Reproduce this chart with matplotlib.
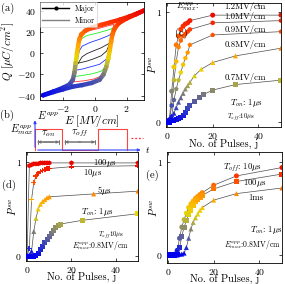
import numpy as np
import matplotlib
matplotlib.use("Agg")
import matplotlib.pyplot as plt
from matplotlib.collections import LineCollection
from matplotlib.colors import LinearSegmentedColormap
from matplotlib.lines import Line2D

plt.rcParams['font.family'] = 'cmr10'
plt.rcParams['mathtext.fontset'] = 'cm'
plt.rcParams['axes.formatter.use_mathtext'] = True
plt.rcParams['axes.unicode_minus'] = True

# ---- (a) hysteresis data, E [MV/cm], Q [uC/cm^2] ----
major_up_E = [-3.25, -2.6, -2.0, -1.6, -1.38, -1.28, -1.2, -1.12, -1.05, -0.97, -0.85, -0.6, -0.2, 0.4, 1.0, 1.6, 2.2, 2.7, 3.1]
major_up_Q = [-39.5, -36, -32.5, -29.5, -25, -18, -9, 0, 7, 13, 17.5, 21, 24, 26.5, 29, 31.5, 34.5, 37.5, 40]
major_lo_E = [-3.25, -2.6, -2.0, -1.4, -0.8, -0.2, 0.3, 0.55, 0.72, 0.85, 0.95, 1.03, 1.12, 1.25, 1.5, 2.0, 2.6, 3.1]
major_lo_Q = [-39.5, -36.5, -34, -31.5, -30, -28, -25, -20, -13, -5, 3, 11, 18, 23, 28, 32.5, 36.5, 40]

minor_colors = ['#222222', '#2233ff', '#22ee22', '#ff3333']
minor_up_E = [[-1.04, -0.8, -0.5, -0.1, 0.4, 0.94],
              [-1.18, -1.08, -0.98, -0.8, -0.3, 0.3, 0.8, 1.0],
              [-1.28, -1.18, -1.05, -0.9, -0.5, 0.2, 0.8, 1.08],
              [-1.33, -1.25, -1.12, -1.0, -0.85, -0.5, 0.2, 0.8, 1.2]]
minor_up_Q = [[-9.4, -3.5, -0.5, 2, 5, 9.4],
              [-16, -6, 2, 6.5, 10, 13, 16, 17.5],
              [-22, -8, 5, 13, 16.5, 19, 21.5, 23],
              [-27, -14, 0, 10, 17.5, 20.5, 23, 25.5, 27]]
minor_lo_E = [[-1.04, -0.5, -0.1, 0.4, 0.75, 0.94],
              [-1.18, -0.8, -0.3, 0.3, 0.7, 0.88, 0.97, 1.0],
              [-1.28, -0.8, -0.2, 0.4, 0.75, 0.92, 1.02, 1.08],
              [-1.33, -0.7, -0.1, 0.5, 0.75, 0.9, 1.0, 1.1, 1.2]]
minor_lo_Q = [[-9.4, -7.5, -5.5, -2.5, 2, 9.4],
              [-16, -15, -13, -10.5, -6, 0, 9, 17.5],
              [-22, -21, -19.5, -17, -12, 0, 12, 23],
              [-27, -26, -24.5, -21, -14, -3, 8, 18, 27]]

# ---- (b) pulse schematic ----
pulse_t = [0, 0, 1, 1, 2.33, 2.33, 3.41, 3.41]
pulse_v = [0, 1, 1, 0, 0, 1, 1, 0]
dots_t = [3.55, 4.0]
dots_v = [0.55, 0.55]

# ---- (c) P_sw vs pulses for several E_max (T_on 1us, T_off 10us) ----
c_j = [0, 1, 2, 3, 4, 5, 6, 7, 8, 9, 10, 20, 50]
c_p12 = [0.0, 0.02, 0.28, 0.5, 0.7, 0.78, 0.84, 0.87, 0.89, 0.9, 0.92, 0.97, 0.97]
c_p10 = [0.0, 0.02, 0.15, 0.38, 0.55, 0.68, 0.74, 0.78, 0.8, 0.82, 0.84, 0.9, 0.92]
c_p09 = [0.0, 0.01, 0.05, 0.2, 0.3, 0.38, 0.45, 0.52, 0.58, 0.63, 0.7, 0.79, 0.82]
c_j08 = [0, 1, 2, 3, 4, 5, 6, 7, 8, 9, 10, 12, 15, 20, 30, 50]
c_p08 = [0.0, 0.01, 0.02, 0.08, 0.13, 0.18, 0.22, 0.26, 0.3, 0.33, 0.36, 0.42, 0.48, 0.54, 0.6, 0.67]
c_j07 = [0, 1, 2, 3, 4, 5, 6, 7, 8, 9, 10, 12, 14, 16, 20, 30, 50]
c_p07 = [0.0, 0.0, 0.01, 0.01, 0.02, 0.03, 0.04, 0.06, 0.09, 0.12, 0.15, 0.19, 0.22, 0.25, 0.29, 0.34, 0.38]
c_labels = ['1.2MV/cm', '1.0MV/cm', '0.9MV/cm', '0.8MV/cm', '0.7MV/cm']
c_label_p = [1.045, 0.96, 0.84, 0.70, 0.40]

# ---- (d) P_sw for several T_on (E 0.8MV/cm, T_off 10us) ----
d_j = [0, 1, 2, 3, 4, 5, 6, 7, 8, 9, 10, 20, 50]
d_p100 = [0.0, 0.96, 0.97, 0.98, 0.98, 0.98, 0.99, 0.99, 0.99, 0.99, 0.99, 0.99, 0.99]
d_p10 = [0.0, 0.08, 0.6, 0.78, 0.85, 0.88, 0.9, 0.91, 0.92, 0.93, 0.93, 0.95, 0.96]
d_j5 = [0, 1, 2, 3, 4, 5, 6, 7, 8, 9, 10, 30, 50]
d_p5 = [0.0, 0.01, 0.05, 0.26, 0.4, 0.5, 0.55, 0.58, 0.6, 0.62, 0.63, 0.66, 0.69]
d_j1 = [0, 1, 2, 3, 4, 5, 6, 7, 8, 9, 10, 11, 12, 13, 14, 15, 25, 50]
d_p1 = [0.0, 0.0, 0.0, 0.0, 0.01, 0.03, 0.07, 0.1, 0.14, 0.18, 0.21, 0.24, 0.27, 0.3, 0.32, 0.34, 0.38, 0.45]

# ---- (e) P_sw for several T_off (E 0.8MV/cm, T_on 1us) ----
e_j = [0, 1, 2, 3, 4, 5, 6, 7, 8, 9, 10, 11, 12, 13, 14, 15, 20, 30, 50]
e_p10 = [0.0, 0.0, 0.0, 0.01, 0.05, 0.18, 0.3, 0.38, 0.45, 0.51, 0.55, 0.58, 0.61, 0.63, 0.65, 0.67, 0.75, 0.85, 0.94]
e_p100 = [0.0, 0.0, 0.0, 0.0, 0.01, 0.08, 0.2, 0.3, 0.37, 0.43, 0.48, 0.53, 0.57, 0.6, 0.62, 0.64, 0.71, 0.79, 0.87]
e_p1ms = [0.0, 0.0, 0.0, 0.0, 0.0, 0.01, 0.01, 0.02, 0.08, 0.18, 0.28, 0.35, 0.4, 0.44, 0.48, 0.51, 0.59, 0.66, 0.72]

cmap = LinearSegmentedColormap.from_list('sw', [
    (0.0, '#0000ee'), (0.12, '#3340c0'), (0.22, '#68688e'), (0.32, '#9a9a5a'),
    (0.45, '#e8d800'), (0.58, '#ffb000'), (0.72, '#ff7000'), (0.84, '#ff3a00'),
    (1.0, '#e80000')])

W, H = 285, 284
fig = plt.figure(figsize=(W / 100, H / 100), dpi=100)


def box(l, t, r, b):
    return [l / W, 1 - b / H, (r - l) / W, (b - t) / H]


def style(ax):
    ax.tick_params(direction='in', length=2.5, width=0.5, labelsize=7, pad=3,
                   top=True, right=True)
    for s in ax.spines.values():
        s.set_linewidth(0.6)


# (a)
ax = fig.add_axes(box(40, 2, 144, 100))
for E, Q in [(major_up_E, major_up_Q), (major_lo_E, major_lo_Q)]:
    pts = np.column_stack([E, Q])
    segs = np.stack([pts[:-1], pts[1:]], axis=1)
    mid = (pts[:-1, 1] + pts[1:, 1]) / 2
    lc = LineCollection(segs, colors=cmap((mid + 40) / 80), linewidths=3.2,
                        capstyle='round', zorder=3)
    ax.add_collection(lc)
    ax.scatter(E, Q, c=cmap((np.array(Q) + 40) / 80), s=9, zorder=4, lw=0)
for k in range(len(minor_colors)):
    ax.plot(minor_up_E[k], minor_up_Q[k], color=minor_colors[k], lw=0.6, zorder=2)
    ax.plot(minor_lo_E[k], minor_lo_Q[k], color=minor_colors[k], lw=0.6, zorder=2)
ax.set_xlim(-3.45, 3.1)
ax.set_ylim(-44, 48)
ax.set_xticks([-2, 0, 2])
ax.set_yticks([-40, -20, 0, 20, 40])
ax.set_xlabel(r'$E\ [MV/cm]$', fontsize=8, labelpad=-1)
ax.set_ylabel(r'$Q\ [\mu C/cm^2]$', fontsize=8, labelpad=0)
handles = [Line2D([], [], color='k', lw=1, marker='o', ms=2),
           Line2D([], [], color='0.5', lw=1)]
leg = ax.legend(handles, ['Major', 'Minor'], loc='upper left', fontsize=5.5,
                frameon=True, fancybox=False, borderaxespad=0, handlelength=3.5,
                borderpad=0.3, labelspacing=0.5)
leg.get_frame().set_linewidth(0.4)
leg.get_frame().set_edgecolor('0.7')
style(ax)

# (b) schematic
bx = fig.add_axes(box(0, 108, 145, 155))
bx.axis('off')
bx.set_xlim(-35 / 27, 110 / 27)
bx.set_ylim(-5 / 21, 42 / 21)
bx.plot(pulse_t, pulse_v, color='#ff4444', lw=0.8)
bx.plot(dots_t, dots_v, color='#ff3333', lw=0.9, ls=(0, (1.5, 1.5)))
blue_arrow = dict(arrowstyle='-|>', color='#3344ff', lw=0.8, mutation_scale=4)
gray_arrow = dict(arrowstyle='-|>', color='0.45', lw=0.7, mutation_scale=4)
gray_bar = dict(arrowstyle='|-|', color='0.45', lw=0.7, mutation_scale=1.5)
bx.annotate('', xy=(4.02, 0), xytext=(0, 0), arrowprops=blue_arrow)
bx.annotate('', xy=(0, 1.55), xytext=(0, 0), arrowprops=blue_arrow)
bx.annotate('', xy=(1, 0.38), xytext=(0, 0.38), arrowprops=gray_bar)
bx.annotate('', xy=(2.33, 0.38), xytext=(1, 0.38), arrowprops=gray_bar)
bx.annotate('', xy=(1, 0.38), xytext=(0.2, 0.38), arrowprops=gray_arrow)
bx.annotate('', xy=(2.33, 0.38), xytext=(1.5, 0.38), arrowprops=gray_arrow)
bx.annotate('', xy=(0, 0.38), xytext=(0.8, 0.38), arrowprops=gray_arrow)
bx.annotate('', xy=(1, 0.38), xytext=(1.8, 0.38), arrowprops=gray_arrow)
bx.text(0.5, 0.78, r'$\tau_{on}$', fontsize=7.5, ha='center', va='center')
bx.text(1.66, 0.78, r'$\tau_{off}$', fontsize=7.5, ha='center', va='center')
bx.text(4.06, 0, r'$t$', fontsize=7, ha='left', va='center')
bx.text(0.08, 1.65, r'$E^{app}$', fontsize=7.5, ha='left', va='center')
bx.text(-0.06, 0.95, r'$E^{app}_{max}$', fontsize=7.5, ha='right', va='center')


def series(ax, j, p, marker):
    ax.plot(j, p, color='0.3', lw=0.5, zorder=2)
    ax.scatter(j, p, c=p, cmap=cmap, vmin=0, vmax=1, marker=marker, s=13,
               lw=0, zorder=3)


def pulse_axes(ax, ylim, xpad):
    ax.set_xlim(-0.5, 50)
    ax.set_ylim(*ylim)
    ax.set_xticks([0, 20, 40])
    ax.set_yticks([0, 1])
    ax.set_xlabel('No. of Pulses, j', fontsize=7.5, labelpad=xpad)
    ax.set_ylabel(r'$P^{sw}$', fontsize=7.5, labelpad=-2)
    style(ax)


# (c)
ax = fig.add_axes(box(166, 3, 281, 127))
series(ax, c_j, c_p12, 'o')
series(ax, c_j, c_p10, 'h')
series(ax, c_j, c_p09, 'p')
series(ax, c_j08, c_p08, '^')
series(ax, c_j07, c_p07, 's')
for lab, p in zip(c_labels, c_label_p):
    ax.text(34.2, p, lab, fontsize=6.3, ha='center', va='center')
ax.text(9, 1.045, r'$E^{app}_{max}$:', fontsize=6.3, ha='center', va='center')
ax.text(34.7, 0.17, r'$T_{on}$: 1$\mu$s', fontsize=6.3, ha='center', va='center')
ax.text(32.5, 0.045, r'$T_{off}$:10$\mu$s', fontsize=4.8, ha='center', va='center')
pulse_axes(ax, (-0.045, 1.08), -1.5)

# (d)
ax = fig.add_axes(box(26, 152, 138, 261))
series(ax, d_j, d_p100, 'h')
series(ax, d_j, d_p10, 'P')
series(ax, d_j5, d_p5, '^')
series(ax, d_j1, d_p1, 's')
ax.text(35, 0.985, r'100$\mu$s', fontsize=6.3, ha='center', va='center')
ax.text(29.5, 0.885, r'10$\mu$s', fontsize=6.3, ha='center', va='center')
ax.text(35, 0.7, r'5$\mu$s', fontsize=6.3, ha='center', va='center')
ax.text(31.5, 0.47, r'$T_{on}$: 1$\mu$s', fontsize=6.3, ha='center', va='center')
ax.text(38, 0.22, r'$T_{off}$10$\mu$s', fontsize=4.8, ha='center', va='center')
ax.text(33, 0.11, r'$E^{app}_{max}$:0.8MV/cm', fontsize=5.5, ha='center', va='center')
pulse_axes(ax, (-0.053, 1.106), -2.5)

# (e)
ax = fig.add_axes(box(167, 152, 282, 263))
series(ax, e_j, e_p10, 'o')
series(ax, e_j, e_p100, 's')
series(ax, e_j, e_p1ms, '^')
ax.text(32.5, 0.94, r'$T_{off}$: 10$\mu$s', fontsize=6.3, ha='center', va='center')
ax.text(38, 0.77, r'100$\mu$s', fontsize=6.3, ha='center', va='center')
ax.text(38.7, 0.61, '1ms', fontsize=6.3, ha='center', va='center')
ax.text(43, 0.27, r'$T_{on}$: 1$\mu$s', fontsize=6.3, ha='center', va='center')
ax.text(37, 0.11, r'$E^{app}_{max}$:0.8MV/cm', fontsize=5.5, ha='center', va='center')
pulse_axes(ax, (-0.086, 1.107), -2.5)

# panel labels
for lab, x, y in [('(a)', 8, 8), ('(b)', 7, 115), ('(c)', 181, 33),
                  ('(d)', 9, 185), ('(e)', 152, 175)]:
    fig.text(x / W, 1 - y / H, lab, fontsize=7.5, ha='center', va='center')

fig.savefig('out.png', dpi=100)
